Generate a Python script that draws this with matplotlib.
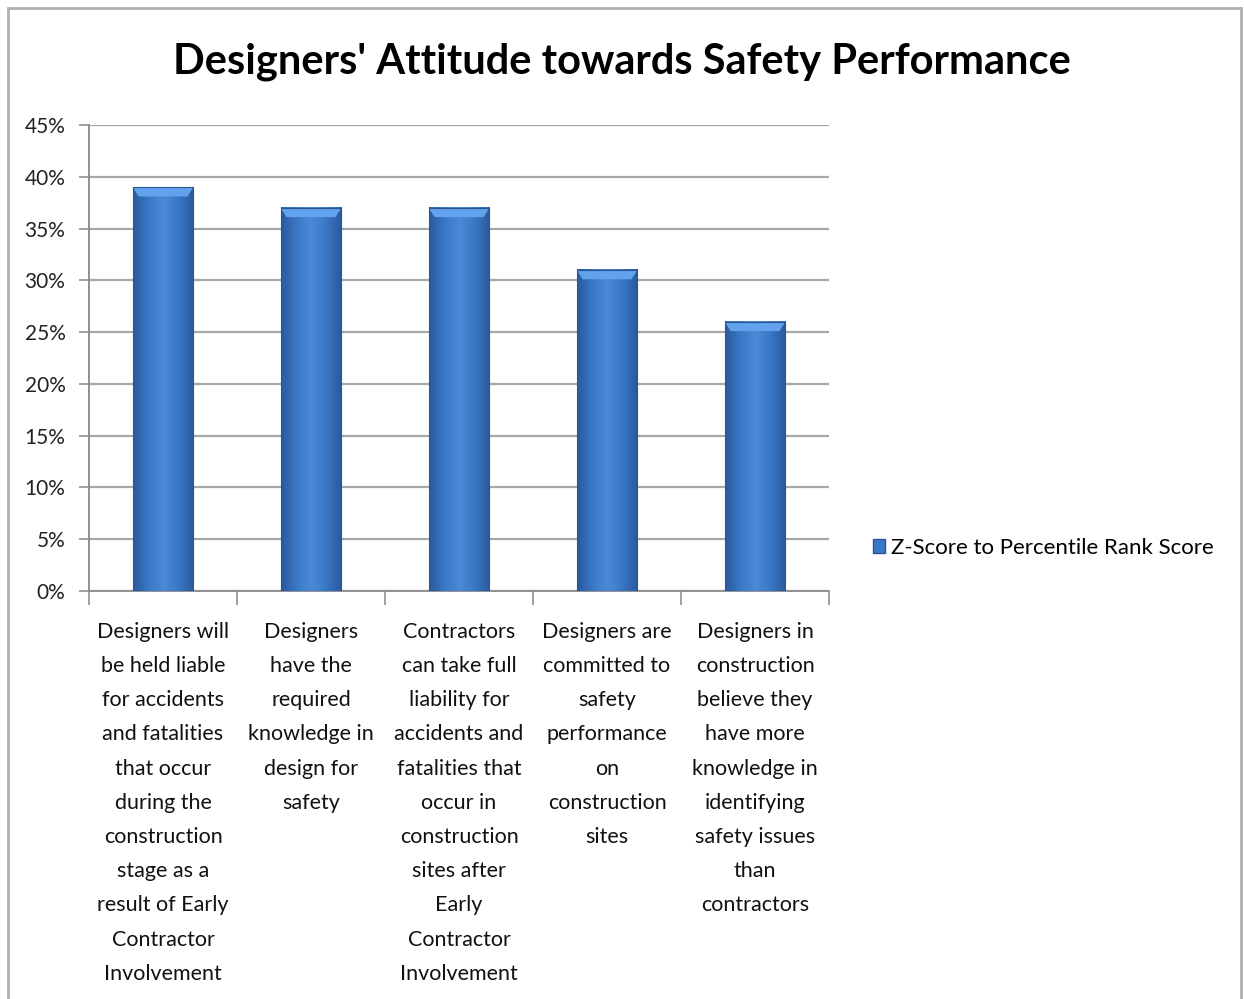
import matplotlib.pyplot as plt
import numpy as np
from matplotlib.colors import LinearSegmentedColormap
from matplotlib.patches import Rectangle, Polygon

categories = [
    "Designers will\nbe held liable\nfor accidents\nand fatalities\nthat occur\nduring the\nconstruction\nstage as a\nresult of Early\nContractor\nInvolvement",
    "Designers\nhave the\nrequired\nknowledge in\ndesign for\nsafety",
    "Contractors\ncan take full\nliability for\naccidents and\nfatalities that\noccur in\nconstruction\nsites after\nEarly\nContractor\nInvolvement",
    "Designers are\ncommitted to\nsafety\nperformance\non\nconstruction\nsites",
    "Designers in\nconstruction\nbelieve they\nhave more\nknowledge in\nidentifying\nsafety issues\nthan\ncontractors",
]
scores = [39, 37, 37, 31, 26]
series_name = "Z-Score to Percentile Rank Score"
yticks = [0, 5, 10, 15, 20, 25, 30, 35, 40, 45]

plt.rcParams['font.family'] = ['Lato', 'DejaVu Sans']

fig = plt.figure(figsize=(12.44, 9.99), dpi=100)
# outer chart frame
fig.patches.append(Rectangle((8/1244, -0.01), 1233/1244, 1 - 8/999 + 0.01,
                             transform=fig.transFigure, fill=False,
                             edgecolor='#b0b0b0', lw=2))

ax = fig.add_axes([89/1244, 1 - 591/999, 740/1244, 466/999])
ax.set_xlim(0, len(scores))
ax.set_ylim(0, 45)

# horizontal shading for the bars: dark edges, lighter middle
shade = LinearSegmentedColormap.from_list(
    'bar', ['#2a5a9c', '#3a78c6', '#4a8ad6', '#3a78c6', '#2a5a9c'])
grad = np.linspace(0, 1, 64).reshape(1, -1)
w = 0.41
for i, v in enumerate(scores):
    x0 = i + 0.5 - w / 2
    ax.imshow(grad, cmap=shade, extent=(x0, x0 + w, 0, v), aspect='auto',
              zorder=3, interpolation='bicubic')
    # lighter bevel along the top
    ax.add_patch(Polygon([(x0, v), (x0 + w, v), (x0 + w - 0.04, v - 0.9),
                          (x0 + 0.04, v - 0.9)],
                         closed=True, color='#62a2ec', lw=0, zorder=4))
    ax.add_patch(Rectangle((x0, 0), w, v, fill=False,
                           edgecolor='#2a5590', lw=0.8, zorder=5))

ax.set_yticks(yticks)
ax.set_yticklabels([f"{t}%" for t in yticks], fontsize=15, color='#222222')
ax.yaxis.grid(True, color='#a8a8a8', lw=1.6)
ax.set_axisbelow(True)

ax.set_xticks(range(len(scores) + 1))
ax.set_xticklabels([])
ax.set_xticks([i + 0.5 for i in range(len(scores))], minor=True)
ax.set_xticklabels(categories, minor=True, fontsize=15.5, linespacing=1.89,
                   va='top', color='#111111')
ax.tick_params(axis='x', which='minor', length=0, pad=22)
ax.tick_params(axis='x', which='major', length=10, color='#909090', width=1.2)
ax.tick_params(axis='y', length=7, color='#909090', width=1.2, pad=10)

for s in ['top', 'right']:
    ax.spines[s].set_visible(False)
for s in ['left', 'bottom']:
    ax.spines[s].set_color('#909090')
    ax.spines[s].set_linewidth(1.4)

fig.text(0.50, 1 - 62/999, "Designers' Attitude towards Safety Performance",
         ha='center', va='center', fontsize=30, fontweight='bold')

# legend
handle = Rectangle((0, 0), 1, 1, facecolor='#3a78c6', edgecolor='#2a5590')
fig.legend([handle], [series_name], loc='center left',
           bbox_to_anchor=(853/1244, 1 - 548/999), frameon=False,
           fontsize=16, handlelength=0.55, handleheight=0.55,
           handletextpad=0.25)

fig.savefig('out.png', dpi=100)
